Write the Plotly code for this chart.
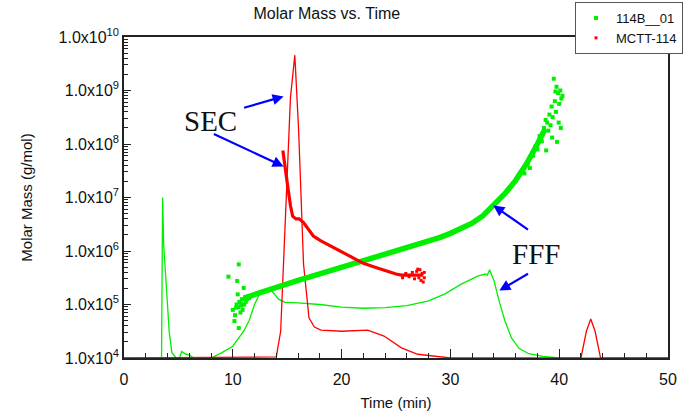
import plotly.graph_objects as go

# ---------------- data (log10 of molar mass values) ----------------
# 114B__01 molar mass (dense band)
ffm_t = [11.0, 12.0, 13.0, 14.0, 15.0, 16.0, 17.0, 18.0, 19.0, 20.0, 21.0, 22.0, 23.0, 24.0,
         25.0, 26.0, 27.0, 28.0, 29.0, 30.0, 31.0, 32.0, 33.0, 34.0, 35.0, 36.0, 37.0, 38.0, 38.7]
ffm_log = [5.12, 5.19, 5.26, 5.33, 5.39, 5.45, 5.51, 5.57, 5.63, 5.69, 5.75, 5.81, 5.87, 5.93,
           5.99, 6.05, 6.11, 6.18, 6.25, 6.33, 6.42, 6.52, 6.66, 6.85, 7.07, 7.32, 7.63, 8.0, 8.28]
# 114B__01 noisy points at the ends
ffp_t = [9.6, 10.0, 10.15, 10.3, 10.35, 10.4, 10.45, 10.55, 10.55, 10.6, 10.7, 10.8, 10.85,
         10.9, 11.0, 11.05, 11.2, 11.3, 11.5, 10.2, 10.5, 10.75,
         36.8, 37.1, 37.3, 37.6, 37.8, 38.0, 38.2, 38.4, 38.6, 38.8, 38.9, 39.0, 39.1, 39.2,
         39.3, 39.4, 39.5, 39.6, 39.7, 39.75, 39.8, 39.9, 40.0, 40.1, 40.2, 40.3, 39.35, 39.65,
         39.95, 40.15, 38.5, 38.75]
ffp_log = [5.52, 4.9, 4.69, 4.94, 5.0, 5.44, 5.19, 5.75, 4.56, 5.05, 4.85, 4.98, 5.1,
           4.9, 5.31, 5.0, 5.05, 5.1, 5.12, 4.8, 4.95, 5.02,
           7.45, 7.62, 7.55, 7.78, 7.95, 7.9, 8.15, 8.05, 8.3, 7.88, 8.4, 8.25, 8.55, 8.35,
           8.7, 8.5, 9.22, 8.8, 8.6, 9.07, 8.04, 8.95, 8.75, 9.0, 8.85, 8.9, 8.12, 8.98,
           8.4, 8.3, 8.2, 8.45]

# 114B__01 concentration trace (thin line)
ffc_t = [0.0, 3.45, 3.55, 3.65, 3.78, 3.94, 4.15, 4.4, 4.8, 5.1, 5.3, 5.7, 6.0, 6.4, 8.0,
         9.0, 10.0, 11.0, 11.5, 12.0, 12.5, 13.1, 13.6, 14.2, 14.8, 16.0, 18.0, 20.0, 22.0,
         24.0, 26.0, 28.0, 29.5, 31.0, 32.5, 33.2, 33.4, 33.6, 34.0, 34.5, 35.0, 35.6, 36.3,
         37.2, 38.5, 40.0, 50.0]
ffc_log = [4.0, 4.0, 7.0, 6.1, 5.7, 5.12, 4.5, 4.1, 4.0, 4.0, 4.12, 4.07, 4.06, 4.0, 4.0,
           4.1, 4.22, 4.5, 4.7, 5.0, 5.22, 5.29, 5.25, 5.1, 5.04, 5.03, 5.0, 4.95, 4.93,
           4.94, 4.98, 5.07, 5.2, 5.38, 5.53, 5.57, 5.55, 5.65, 5.45, 5.05, 4.7, 4.38, 4.18,
           4.08, 4.03, 4.0, 4.0]

# MCTT-114 molar mass (thick line)
secm_t = [14.6, 14.8, 15.1, 15.3, 15.5, 15.8, 16.1, 16.5, 17.0, 17.4, 18.1, 19.3, 20.8,
          22.0, 23.0, 23.9, 25.0, 25.5, 26.5, 27.5]
secm_log = [7.88, 7.55, 7.13, 6.85, 6.65, 6.6, 6.6, 6.53, 6.4, 6.28, 6.19, 6.06, 5.89,
            5.77, 5.7, 5.64, 5.57, 5.55, 5.55, 5.55]
# MCTT-114 noisy points
secp_t = [25.6, 25.9, 26.2, 26.5, 26.7, 26.9, 27.1, 27.2, 27.3, 27.4, 27.5, 27.6, 27.6, 27.0]
secp_log = [5.5, 5.58, 5.52, 5.6, 5.48, 5.62, 5.5, 5.65, 5.45, 5.58, 5.42, 5.6, 5.5, 5.66]

# MCTT-114 concentration trace (thin line)
secc_t = [0.0, 14.0, 14.4, 14.9, 15.3, 15.7, 16.05, 16.5, 17.0, 17.5, 18.1, 20.0, 22.4,
          23.9, 25.5, 27.0, 28.8, 30.0, 42.0, 42.5, 42.9, 43.3, 43.8, 50.0]
secc_log = [4.0, 4.02, 4.5, 7.0, 8.87, 9.66, 8.26, 5.76, 4.75, 4.58, 4.52, 4.5, 4.52,
            4.41, 4.19, 4.07, 4.03, 4.0, 4.0, 4.5, 4.73, 4.5, 4.0, 4.0]

# axis ticks
exps = [4, 5, 6, 7, 8, 9, 10]
minor_digits = [2, 3, 4, 5, 6, 7, 8, 9]

def lin(v):
    return [10 ** x for x in v]

GREEN = "#00ee00"
RED = "#ff0000"
BLUE = "#0000ff"

fig = go.Figure()
fig.add_trace(go.Scatter(x=ffc_t, y=lin(ffc_log), mode="lines", line=dict(color=GREEN, width=1.3),
                         showlegend=False, hoverinfo="skip"))
fig.add_trace(go.Scatter(x=secc_t, y=lin(secc_log), mode="lines", line=dict(color=RED, width=1.3),
                         showlegend=False, hoverinfo="skip"))
fig.add_trace(go.Scatter(x=ffm_t, y=lin(ffm_log), mode="lines", line=dict(color=GREEN, width=5.5),
                         showlegend=False))
fig.add_trace(go.Scatter(x=ffp_t, y=lin(ffp_log), mode="markers", name="114B__01",
                         marker=dict(color=GREEN, size=4, symbol="square")))
fig.add_trace(go.Scatter(x=secm_t, y=lin(secm_log), mode="lines", line=dict(color=RED, width=3.2),
                         showlegend=False))
fig.add_trace(go.Scatter(x=secp_t, y=lin(secp_log), mode="markers", name="MCTT-114",
                         marker=dict(color=RED, size=3, symbol="square")))

minor_vals = [d * 10 ** e for e in exps[:-1] for d in minor_digits]
fig.update_yaxes(type="log", range=[4, 10], tickmode="array", tickvals=[10 ** e for e in exps],
                 ticktext=["1.0x10<sup>%d</sup>" % e for e in exps],
                 ticks="inside", ticklen=7, tickcolor="#222", showgrid=False, zeroline=False,
                 showline=True, linecolor="#222", linewidth=1.5, mirror=True,
                 minor=dict(ticks="inside", ticklen=4, tickcolor="#222", showgrid=False,
                            tickmode="array", tickvals=minor_vals),
                 title=dict(text="Molar Mass (g/mol)", standoff=22,
                            font=dict(size=15, color="#111")),
                 tickfont=dict(size=16, color="#111"))
fig.update_xaxes(range=[0, 50], dtick=10, ticks="inside", ticklen=9, tickcolor="#222",
                 showgrid=False, zeroline=False, showline=True, linecolor="#222",
                 linewidth=1.5, mirror=True, ticklabelstandoff=6,
                 minor=dict(ticks="inside", ticklen=5, dtick=2, tickcolor="#222", showgrid=False),
                 title=dict(text="Time (min)", standoff=11, font=dict(size=15, color="#111")),
                 tickfont=dict(size=16, color="#111"))

anns = [
    dict(x=7.93, y=8.43, text="SEC", showarrow=False, font=dict(family="Liberation Serif", size=29, color="#111")),
    dict(x=37.9, y=5.95, text="FFF", showarrow=False, font=dict(family="Liberation Serif", size=29, color="#111")),
]
arrows = [((14.67, 8.89), (10.9, 8.67)), ((14.67, 7.58), (8.12, 8.2)),
          ((33.95, 6.85), (37.27, 6.38)), ((34.5, 5.26), (37.27, 5.59))]
for (tip, tail) in arrows:
    anns.append(dict(x=tip[0], y=tip[1], ax=tail[0], ay=tail[1], xref="x", yref="y",
                     axref="x", ayref="y", text="", showarrow=True, arrowhead=2,
                     arrowsize=1, arrowwidth=2.2, arrowcolor=BLUE))

fig.update_layout(
    width=691, height=420,
    margin=dict(l=124, r=23, t=37, b=62, autoexpand=False),
    paper_bgcolor="white", plot_bgcolor="white",
    font=dict(family="Liberation Sans", color="#111"),
    title=dict(text="Molar Mass vs. Time", x=0.473, xanchor="center", y=0.967, yanchor="middle",
               font=dict(size=16, color="#111")),
    legend=dict(x=0.829, y=1.109, xanchor="left", yanchor="top", bgcolor="white",
                bordercolor="#555", borderwidth=1, font=dict(size=13, color="#111"),
                tracegroupgap=0, itemwidth=30),
    annotations=anns,
)

fig.write_html("out.html", config={"displayModeBar": False},
               post_script="document.body.style.margin='0px';")
